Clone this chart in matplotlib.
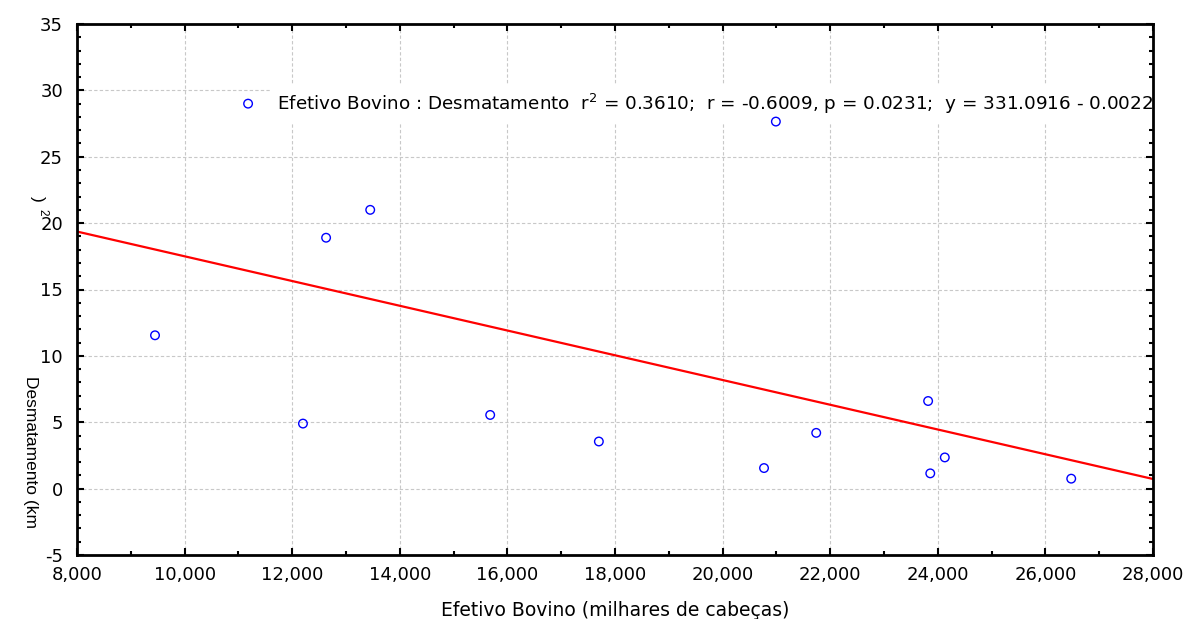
import numpy as np
import matplotlib.pyplot as plt
from matplotlib.ticker import MultipleLocator, FuncFormatter

plt.rcParams['font.family'] = ['DejaVu Sans']
plt.rcParams['axes.unicode_minus'] = False

# Efetivo bovino (milhares de cabeças) x desmatamento (km2)
efetivo = [9450, 11180, 12200, 12630, 13450, 15680, 17700,
           20770, 20990, 21740, 23820, 23860, 24130, 26480]
desmat = [11.55, 29.0, 4.9, 18.9, 21.0, 5.55, 3.55,
          1.55, 27.65, 4.2, 6.6, 1.15, 2.35, 0.75]

x = np.array(efetivo, dtype=float)
y = np.array(desmat)
coef = np.polyfit(x, y, 1)
xl = np.array([8000, 28000])

fig = plt.figure(figsize=(12, 6.19), dpi=100)
ax = fig.add_axes([77/1200, 1-555/619, 1076/1200, 531/619])

ax.plot(xl, np.polyval(coef, xl), color='#ff0000', linewidth=1.6, zorder=3)
ax.scatter(x, y, s=38, facecolors='none', edgecolors='#0000ff',
           linewidths=1.0, zorder=5)

ax.set_xlim(8000, 28000)
ax.set_ylim(-5, 35)
ax.xaxis.set_major_locator(MultipleLocator(2000))
ax.xaxis.set_minor_locator(MultipleLocator(1000))
ax.yaxis.set_major_locator(MultipleLocator(5))
ax.yaxis.set_minor_locator(MultipleLocator(1))
ax.xaxis.set_major_formatter(FuncFormatter(lambda v, p: f'{int(v):,}'))

ax.tick_params(which='both', direction='in', top=True, right=True,
               labelsize=13, width=1.5)
ax.tick_params(which='major', length=5)
ax.tick_params(which='minor', length=3)
ax.tick_params(axis='x', which='major', pad=8)
ax.tick_params(axis='y', which='major', pad=10)
for s in ax.spines.values():
    s.set_linewidth(2)
    s.set_zorder(6)

ax.grid(True, which='major', linestyle=(0, (3, 2)), color='#c8c8c8',
        linewidth=0.8)
ax.set_axisbelow(True)

# caixa da legenda com a estatística da regressão
ax.text(0.186, 0.849,
        'Efetivo Bovino : Desmatamento  r$^2$ = 0.3610;  r = -0.6009, '
        'p = 0.0231;  y = 331.0916 - 0.0022',
        transform=ax.transAxes, fontsize=13.2, va='center', ha='left',
        bbox=dict(facecolor='white', edgecolor='none', pad=5), zorder=4)

ax.set_xlabel('Efetivo Bovino (milhares de cabeças)', fontsize=13.5,
              labelpad=12)

fig.text(30/1200, 1-452/619, 'Desmatamento (km', rotation=270,
         fontsize=12.5, ha='center', va='center', family='Liberation Sans')
fig.text(37/1200, 1-199/619, ')', rotation=270, fontsize=12.5,
         ha='center', va='center', family='Liberation Sans')
fig.text(42/1200, 1-212/619, '2', rotation=270, fontsize=8.5,
         ha='center', va='center', family='Liberation Sans')

fig.savefig('out.png', dpi=100)
